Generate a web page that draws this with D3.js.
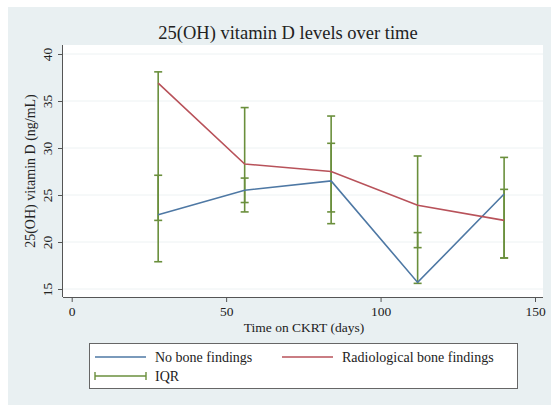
<!DOCTYPE html>
<html><head><meta charset="utf-8">
<script src="https://cdn.jsdelivr.net/npm/d3@7"></script>
<style>body{margin:0;background:#fff}svg{display:block}text{font-family:"Liberation Serif","Times New Roman",serif;fill:#222}</style>
</head><body>
<script>
const days = [28, 56, 84, 112, 140];
const noBone = [22.9, 25.5, 26.5, 15.7, 25.1];
const radBone = [36.9, 28.3, 27.5, 23.9, 22.3];
const iqrA_lo = [22.3, 24.2, 23.2, 19.4, 18.3];
const iqrA_hi = [27.1, 26.8, 30.5, 21.0, 25.6];
const iqrB_lo = [17.9, 23.2, 21.95, 15.6, 18.3];
const iqrB_hi = [38.1, 34.3, 33.4, 29.15, 29.0];
const xTicks = [0, 50, 100, 150];
const yTicks = [15, 20, 25, 30, 35, 40];

const W = 551, H = 405;
const svg = d3.select("body").append("svg").attr("width", W).attr("height", H);
svg.append("rect").attr("x", 8).attr("y", 7).attr("width", W - 8).attr("height", H - 7).attr("fill", "#e9f0f2");
const pl = 63, pr = 543, pt = 45, pb = 297;
svg.append("rect").attr("x", pl).attr("y", pt).attr("width", pr - pl).attr("height", pb - pt).attr("fill", "#fff");

const x = d3.scaleLinear().domain([0, 150]).range([71.7, 535]);
const y = d3.scaleLinear().domain([15, 40]).range([289, 54]);

// gridlines
svg.append("g").selectAll("line").data(yTicks).join("line")
  .attr("x1", pl).attr("x2", pr).attr("y1", d => y(d)).attr("y2", d => y(d))
  .attr("stroke", "#edf2f3").attr("stroke-width", 1);

// axes
const gx = svg.append("g").attr("transform", `translate(0,${pb})`)
  .call(d3.axisBottom(x).tickValues(xTicks).tickSize(5).tickPadding(4).tickSizeOuter(0));
gx.select(".domain").attr("d", `M${pl},0.5H${pr}`).attr("stroke", "#555");
gx.selectAll(".tick line").attr("stroke", "#555");
gx.selectAll(".tick text").attr("font-size", 13.5).attr("font-family", "Liberation Serif").attr("fill", "#222");

const gy = svg.append("g").attr("transform", `translate(${pl},0)`)
  .call(d3.axisLeft(y).tickValues(yTicks).tickSize(5).tickSizeOuter(0));
gy.select(".domain").attr("d", `M-0.5,${pt}V${pb}`).attr("stroke", "#555");
gy.selectAll(".tick line").attr("stroke", "#555");
gy.selectAll(".tick text").attr("font-size", 13.5).attr("font-family", "Liberation Serif").attr("fill", "#222")
  .attr("x", null).attr("dy", null).attr("text-anchor", "middle")
  .attr("transform", "translate(-14,0) rotate(-90)").attr("dominant-baseline", "middle");

// IQR bars
const green = "#6a8f3c";
function drawIQR(lo, hi) {
  const g = svg.append("g").attr("stroke", green).attr("stroke-width", 1.6);
  days.forEach((d, i) => {
    const cx = x(d);
    g.append("line").attr("x1", cx).attr("x2", cx).attr("y1", y(lo[i])).attr("y2", y(hi[i]));
    [lo[i], hi[i]].forEach(v => g.append("line").attr("x1", cx - 4).attr("x2", cx + 4).attr("y1", y(v)).attr("y2", y(v)));
  });
}
drawIQR(iqrB_lo, iqrB_hi);
drawIQR(iqrA_lo, iqrA_hi);

const line = d3.line().x((d, i) => x(days[i])).y(d => y(d));
svg.append("path").datum(noBone).attr("d", line).attr("fill", "none").attr("stroke", "#4e78a4").attr("stroke-width", 1.6);
svg.append("path").datum(radBone).attr("d", line).attr("fill", "none").attr("stroke", "#b8525a").attr("stroke-width", 1.6);

// titles
svg.append("text").attr("x", 288).attr("y", 39).attr("text-anchor", "middle").attr("font-size", 18.5).text("25(OH) vitamin D levels over time");
svg.append("text").attr("x", 304).attr("y", 332).attr("text-anchor", "middle").attr("font-size", 13.5).text("Time on CKRT (days)");
svg.append("text").attr("transform", "translate(35,171) rotate(-90)").attr("text-anchor", "middle").attr("font-size", 14).text("25(OH) vitamin D (ng/mL)");

// legend
const lg = svg.append("g");
lg.append("rect").attr("x", 89.5).attr("y", 343.5).attr("width", 428).attr("height", 45).attr("fill", "#fff").attr("stroke", "#666").attr("stroke-width", 1);
lg.append("line").attr("x1", 95).attr("x2", 146).attr("y1", 357).attr("y2", 357).attr("stroke", "#4e78a4").attr("stroke-width", 1.6);
lg.append("text").attr("x", 155).attr("y", 361.5).attr("font-size", 14).text("No bone findings");
lg.append("line").attr("x1", 282).attr("x2", 333).attr("y1", 357).attr("y2", 357).attr("stroke", "#b8525a").attr("stroke-width", 1.6);
lg.append("text").attr("x", 342).attr("y", 361.5).attr("font-size", 14).text("Radiological bone findings");
lg.append("line").attr("x1", 95).attr("x2", 146).attr("y1", 376).attr("y2", 376).attr("stroke", green).attr("stroke-width", 1.6);
lg.append("line").attr("x1", 95).attr("x2", 95).attr("y1", 372).attr("y2", 380).attr("stroke", green).attr("stroke-width", 1.4);
lg.append("line").attr("x1", 146).attr("x2", 146).attr("y1", 372).attr("y2", 380).attr("stroke", green).attr("stroke-width", 1.4);
lg.append("text").attr("x", 155).attr("y", 381).attr("font-size", 14).text("IQR");
</script>
</body></html>
